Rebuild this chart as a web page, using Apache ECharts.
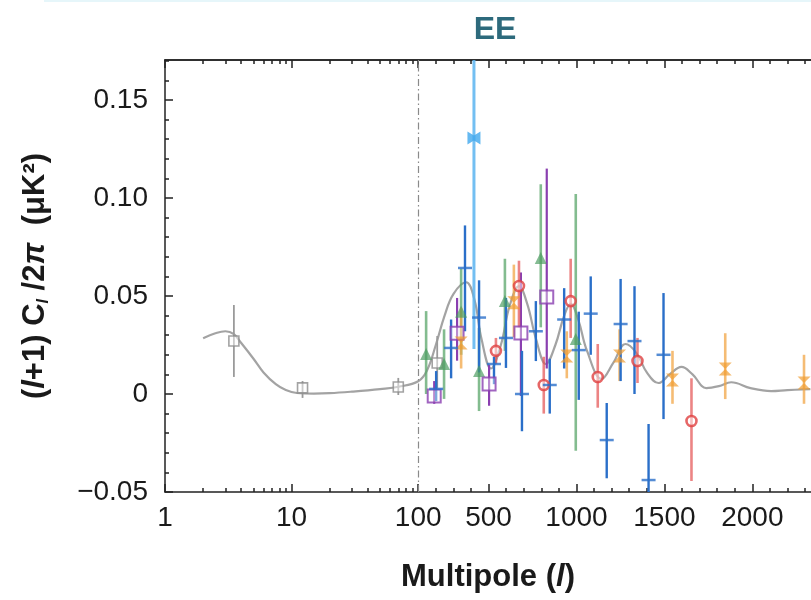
<!DOCTYPE html>
<html>
<head>
<meta charset="utf-8">
<script src="https://cdn.jsdelivr.net/npm/echarts@6/dist/echarts.min.js"></script>
<style>
  html, body { margin: 0; padding: 0; background: #fff; }
  #chart { width: 811px; height: 600px; }
</style>
</head>
<body>
<div id="chart"></div>
<script>
// ---- data: EE power spectrum, multipole l and l(l+1)C_l/2π in μK² ----
const theoryL = [2, 2.5, 3, 3.5, 4, 5, 6, 7.5, 9, 11, 15, 20, 30, 50, 70, 100,
  150, 200, 250, 300, 372, 420, 460, 514, 570, 620, 673, 720, 770, 826, 880, 930,
  967, 1010, 1060, 1143, 1210, 1279, 1340, 1400, 1466, 1530, 1597, 1660, 1739,
  1810, 1880, 1990, 2107, 2200, 2330];
const theoryV = [0.0285, 0.031, 0.032, 0.0305, 0.026, 0.018, 0.011, 0.005, 0.002, 0.0005, 0.0002, 0.0004, 0.0012, 0.0025, 0.0037, 0.0065,
  0.012, 0.025, 0.040, 0.051, 0.057, 0.048, 0.028, 0.013, 0.025, 0.045, 0.055, 0.046, 0.028, 0.0153, 0.025, 0.040,
  0.046, 0.038, 0.022, 0.0077, 0.016, 0.0255, 0.021, 0.011, 0.0056, 0.010, 0.0138, 0.010, 0.003,
  0.004, 0.006, 0.003, 0.0015, 0.002, 0.0025];

const grayL = [3.5, 12.2, 69.6, 208];
const grayV = [0.027, 0.0031, 0.0036, 0.0158];
const grayLo = [0.0087, -0.002, -0.0005, 0.0031];
const grayHi = [0.0454, 0.0066, 0.0082, 0.0296];

const greenL = [145, 247, 344, 446, 593, 797, 996];
const greenV = [0.0204, 0.0153, 0.042, 0.0117, 0.0474, 0.0694, 0.028];
const greenLo = [0.0, -0.0025, 0.020, -0.0087, 0.022, 0.034, -0.029];
const greenHi = [0.0423, 0.033, 0.064, 0.0337, 0.069, 0.107, 0.102];

const purpleL = [191, 321, 503, 684, 831];
const purpleV = [-0.001, 0.031, 0.0051, 0.0311, 0.0495];
const purpleLo = [-0.005, 0.017, -0.006, -0.001, 0.013];
const purpleHi = [0.0066, 0.049, 0.015, 0.062, 0.115];

const orangeL = [344, 644, 945, 1245, 1546, 1846, 2294];
const orangeV = [0.026, 0.0465, 0.0194, 0.0194, 0.0071, 0.0128, 0.0056];
const orangeLo = [0.013, 0.029, 0.008, 0.0066, -0.005, -0.0026, -0.005];
const orangeHi = [0.044, 0.066, 0.032, 0.033, 0.022, 0.031, 0.020];

const redL = [542, 673, 814, 967, 1121, 1347, 1654];
const redV = [0.022, 0.0551, 0.0046, 0.0474, 0.0087, 0.0168, -0.0138];
const redLo = [0.0153, 0.034, -0.010, 0.0286, -0.007, 0.0056, -0.0444];
const redHi = [0.0286, 0.068, 0.019, 0.069, 0.0255, 0.0286, 0.008];

const blueL = [202, 287, 366, 446, 531, 599, 690, 769, 848, 930, 1013, 1081, 1172, 1251, 1330, 1410, 1495];
const blueV = [0.0026, 0.0235, 0.0643, 0.039, 0.0153, 0.0286, 0.0, 0.032, 0.0046, 0.038, 0.0224, 0.041, -0.0235, 0.0357, 0.027, -0.0439, 0.020];
const blueLo = [-0.0036, 0.008, 0.032, 0.011, 0.005, 0.0133, -0.019, 0.0168, -0.010, 0.013, -0.003, 0.020, -0.043, 0.0066, 0.0, -0.052, -0.0128];
const blueHi = [0.0117, 0.038, 0.086, 0.058, 0.019, 0.049, 0.022, 0.0474, 0.018, 0.054, 0.042, 0.060, -0.0046, 0.0587, 0.055, -0.0153, 0.0515];

const cyanL = [417];
const cyanV = [0.1306];
const cyanLo = [0.023];
const cyanHi = [0.25];

// tick labels
const xTickLabels = [1, 10, 100, 500, 1000, 1500, 2000];
const yTickLabels = [-0.05, 0, 0.05, 0.10, 0.15];

// ---- hybrid axis: logarithmic up to l = 100, linear above ----
const LIN_SCALE = 720;             // multipoles per log-decade width in the linear part
const toU = l => l <= 100 ? Math.log10(l) : 2 + (l - 100) / LIN_SCALE;
const fromU = u => u <= 2 ? Math.pow(10, u) : 100 + (u - 2) * LIN_SCALE;

const Y_MIN = -0.05, Y_MAX = 0.1704;
const X_MIN = 0, X_MAX = 5.1024;

const xMajor = xTickLabels.map(toU);
const xMinor = [];
for (let d = 1; d <= 10; d *= 10) for (let k = 2; k <= 9; k++) xMinor.push(toU(k * d));
for (let l = 200; l <= 2300; l += 100) if (l % 500 !== 0) xMinor.push(toU(l));
const yMinor = [];
for (let i = -4; i <= 17; i++) if (i % 5 !== 0) yMinor.push(i / 100);

const pairs = (ls, vs) => ls.map((l, i) => [toU(l), vs[i]]);
const clampY = v => Math.max(Y_MIN, Math.min(Y_MAX, v));

function errorBars(ls, lo, hi, color, width) {
  return {
    type: 'custom',
    z: 3,
    silent: true,
    data: ls.map((l, i) => [toU(l), lo[i], hi[i]]),
    encode: { x: 0, y: [1, 2] },
    renderItem(params, api) {
      const a = api.coord([api.value(0), clampY(api.value(1))]);
      const b = api.coord([api.value(0), clampY(api.value(2))]);
      return {
        type: 'line',
        shape: { x1: a[0], y1: a[1], x2: b[0], y2: b[1] },
        style: { stroke: color, lineWidth: width }
      };
    }
  };
}

function markers(ls, vs, symbol, size, itemStyle, z) {
  return {
    type: 'scatter',
    z: z || 5,
    silent: true,
    data: pairs(ls, vs),
    symbol,
    symbolSize: size,
    itemStyle
  };
}

const FONT = 'Liberation Sans, Arial, sans-serif';
const tickFont = { fontFamily: FONT, fontSize: 28, color: '#1a1a1a' };

function xAxisDef(position, ticks, len, labels) {
  return {
    type: 'value', min: X_MIN, max: X_MAX, position,
    axisLine: { show: labels || position === 'top', onZero: false, lineStyle: { color: '#222', width: 1.5 } },
    axisTick: { show: true, inside: true, length: len, customValues: ticks, lineStyle: { color: '#222', width: 1.5 } },
    axisLabel: labels ? {
      show: true, customValues: xMajor, margin: 12, ...tickFont,
      formatter: v => String(Math.round(fromU(v)))
    } : { show: false },
    splitLine: { show: false },
    name: labels ? 'Multipole ({i|l})' : '',
    nameLocation: 'middle',
    nameGap: 70,
    nameTextStyle: {
      fontFamily: FONT, fontSize: 31, fontWeight: 'bold', color: '#1a1a1a',
      rich: { i: { fontFamily: FONT, fontSize: 31, fontWeight: 'bold', fontStyle: 'italic', color: '#1a1a1a' } }
    }
  };
}

function yAxisDef(ticks, len, labels) {
  const nameFont = { fontFamily: FONT, fontSize: 31, fontWeight: 'bold', color: '#1a1a1a' };
  return {
    type: 'value', min: Y_MIN, max: Y_MAX, position: 'left',
    axisLine: { show: labels, onZero: false, lineStyle: { color: '#222', width: 1.5 } },
    axisTick: { show: true, inside: true, length: len, customValues: ticks, lineStyle: { color: '#222', width: 1.5 } },
    axisLabel: labels ? {
      show: true, customValues: yTickLabels, margin: 17, ...tickFont,
      formatter: v => Math.abs(v) < 1e-9 ? '0' : (v < 0 ? '\u2212' + Math.abs(v).toFixed(2) : v.toFixed(2))
    } : { show: false },
    splitLine: { show: false },
    name: labels ? '({i|l}+1) C{sub|l} /2{i|\u03c0}  (\u03bcK\u00b2)' : '',
    nameLocation: 'middle',
    nameRotate: 90,
    nameGap: 113,
    nameTextStyle: {
      ...nameFont,
      lineHeight: 34,
      rich: {
        i: { ...nameFont, fontStyle: 'italic', lineHeight: 34 },
        sub: { ...nameFont, fontSize: 16, fontStyle: 'italic', verticalAlign: 'bottom', lineHeight: 22 }
      }
    }
  };
}

const chart = echarts.init(document.getElementById('chart'), null, { renderer: 'canvas' });

chart.setOption({
  animation: false,
  backgroundColor: '#ffffff',
  title: {
    text: 'EE',
    left: 490, top: 9,
    textAlign: 'center',
    textStyle: { fontFamily: FONT, fontSize: 32, fontWeight: 'bold', color: '#2d6a7c' }
  },
  graphic: [{
    type: 'rect', left: 44, top: 0, silent: true,
    shape: { width: 767, height: 2 },
    style: { fill: '#e6f6fa' }
  }],
  grid: { left: 165, top: 60, right: -2, bottom: 108, containLabel: false },
  xAxis: [
    xAxisDef('bottom', xMajor, 8, true),
    xAxisDef('bottom', xMinor, 4, false),
    xAxisDef('top', xMajor, 8, false),
    xAxisDef('top', xMinor, 4, false)
  ],
  yAxis: [
    yAxisDef(yTickLabels, 8, true),
    yAxisDef(yMinor, 4, false)
  ],
  series: [
    {
      type: 'line',
      z: 1,
      silent: true,
      data: pairs(theoryL, theoryV),
      smooth: 0.4,
      showSymbol: false,
      lineStyle: { color: '#a3a3a3', width: 2.2 },
      markLine: {
        silent: true, symbol: 'none', label: { show: false },
        lineStyle: { color: '#8a8a8a', width: 1.2, type: [7, 3, 1.5, 3] },
        data: [{ xAxis: toU(100) }]
      }
    },
    errorBars(grayL, grayLo, grayHi, '#9a9a9a', 1.8),
    errorBars(greenL, greenLo, greenHi, 'rgba(90,165,105,0.75)', 2.6),
    errorBars(purpleL, purpleLo, purpleHi, '#8a3fb0', 2.2),
    errorBars(orangeL, orangeLo, orangeHi, 'rgba(242,165,70,0.75)', 2.6),
    errorBars(redL, redLo, redHi, 'rgba(228,80,80,0.7)', 2.6),
    errorBars(blueL, blueLo, blueHi, '#2a6fc9', 2.4),
    errorBars(cyanL, cyanLo, cyanHi, 'rgba(90,180,240,0.85)', 3),
    markers(grayL, grayV, 'rect', 10, { color: 'rgba(255,255,255,0.6)', borderColor: '#8c8c8c', borderWidth: 1.6 }),
    markers(greenL, greenV, 'triangle', 12, { color: 'rgba(75,155,95,0.85)' }),
    markers(purpleL, purpleV, 'rect', 13, { color: 'rgba(255,255,255,0.5)', borderColor: '#8a3fb0', borderWidth: 2 }),
    markers(orangeL, orangeV, 'path://M0,0L10,0L5,5L10,10L0,10L5,5Z', 13, { color: 'rgba(240,155,45,0.85)' }),
    markers(redL, redV, 'circle', 10, { color: 'rgba(255,255,255,0.6)', borderColor: '#e04040', borderWidth: 2.6 }),
    markers(blueL, blueV, 'rect', [14, 2.5], { color: '#2a6fc9' }, 6),
    markers(cyanL, cyanV, 'path://M0,0L5,3L10,0L10,10L5,7L0,10Z', 13, { color: '#3fa8ee' })
  ]
});
</script>
</body>
</html>
